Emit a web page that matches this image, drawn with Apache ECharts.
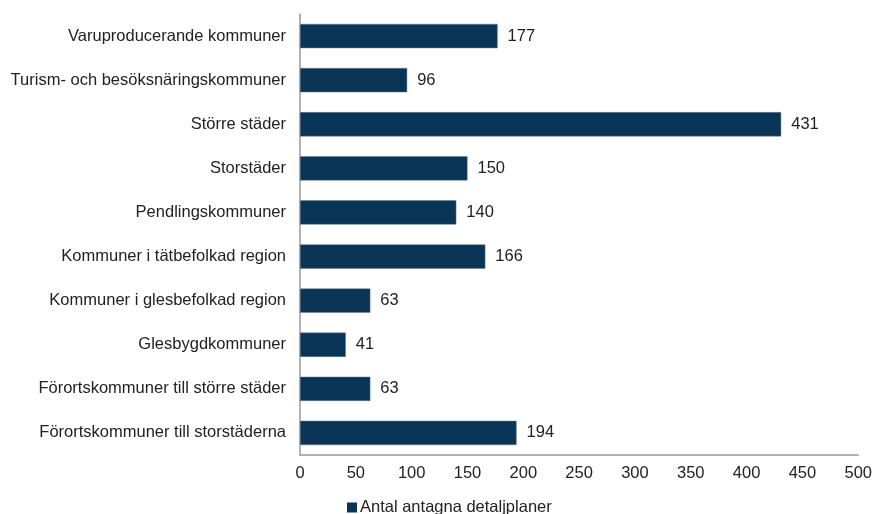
<!DOCTYPE html>
<html>
<head>
<meta charset="utf-8">
<script src="https://cdn.jsdelivr.net/npm/echarts@6/dist/echarts.min.js"></script>
<style>
html,body{margin:0;padding:0;background:#fff;}
#chart{width:875px;height:514px;}
</style>
</head>
<body>
<div id="chart"></div>
<script>
// Municipality groups, listed top to bottom
const categories = [
  'Varuproducerande kommuner',
  'Turism- och besöksnäringskommuner',
  'Större städer',
  'Storstäder',
  'Pendlingskommuner',
  'Kommuner i tätbefolkad region',
  'Kommuner i glesbefolkad region',
  'Glesbygdkommuner',
  'Förortskommuner till större städer',
  'Förortskommuner till storstäderna'
];
const values = [177, 96, 431, 150, 140, 166, 63, 41, 63, 194];
const seriesName = 'Antal antagna detaljplaner';
const axisMax = 500;
const axisStep = 50;

const font = 'Liberation Sans, Arial, sans-serif';
const fontSize = 16.5;
const chart = echarts.init(document.getElementById('chart'));
chart.setOption({
  animation: false,
  grid: { left: 300, right: 16, top: 14, bottom: 59, containLabel: false },
  legend: {
    data: [seriesName],
    top: 499,
    left: 347,
    padding: 0,
    itemWidth: 10,
    itemHeight: 10,
    itemGap: 4,
    icon: 'rect',
    itemStyle: { borderWidth: 0 },
    textStyle: { fontFamily: font, fontSize: fontSize, color: '#222', padding: [0, 0, 0, -2] }
  },
  xAxis: {
    type: 'value',
    min: 0,
    max: axisMax,
    interval: axisStep,
    axisLine: { show: true, lineStyle: { color: '#999', width: 1.5 } },
    axisTick: { show: false },
    splitLine: { show: false },
    axisLabel: { fontFamily: font, fontSize: fontSize, color: '#222', margin: 10 }
  },
  yAxis: {
    type: 'category',
    data: categories,
    inverse: true,
    axisLine: { show: true, lineStyle: { color: '#999', width: 1.5 } },
    axisTick: { show: false },
    axisLabel: { fontFamily: font, fontSize: fontSize, color: '#222', margin: 14 }
  },
  series: [{
    name: seriesName,
    type: 'bar',
    data: values,
    barCategoryGap: '45%',
    itemStyle: { color: '#0a3456', borderColor: '#6b7f90', borderWidth: 0.5 },
    label: {
      show: true,
      position: 'right',
      distance: 10,
      fontFamily: font,
      fontSize: fontSize,
      color: '#222'
    }
  }]
});
</script>
</body>
</html>
